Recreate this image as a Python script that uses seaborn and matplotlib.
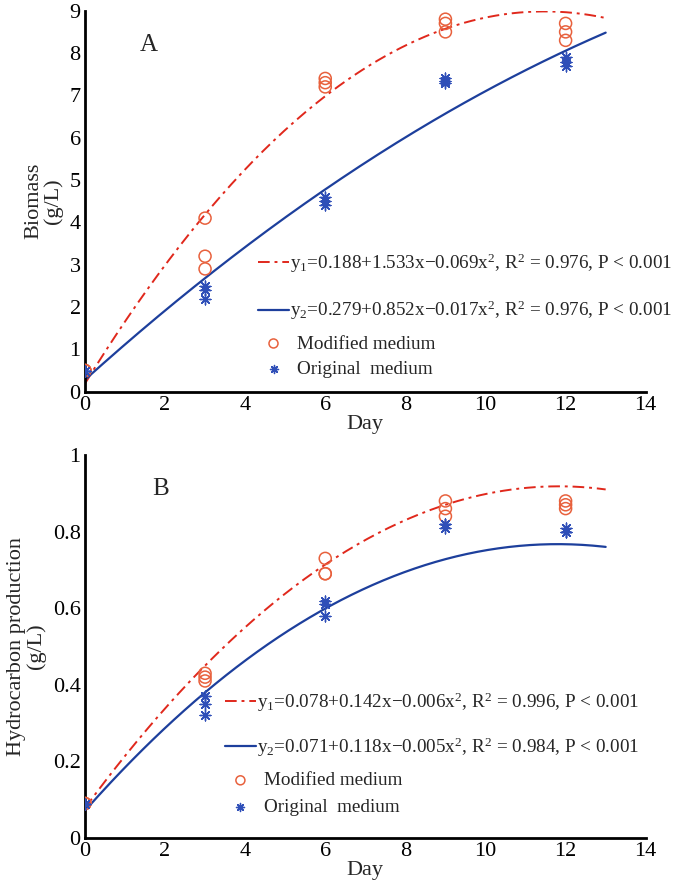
import numpy as np
import pandas as pd
import matplotlib
matplotlib.use('Agg')
import matplotlib.pyplot as plt
import seaborn as sns

## sampling days and replicate values
days = [0, 3, 6, 9, 12]

bio_mod = [[0.5, 0.5, 0.5], [4.1, 3.2, 2.9], [7.4, 7.3, 7.2], [8.8, 8.7, 8.5], [8.7, 8.5, 8.3]]
bio_ori = [[0.5, 0.5, 0.5], [2.5, 2.4, 2.2], [4.6, 4.5, 4.4], [7.4, 7.35, 7.3], [7.9, 7.8, 7.7]]

hc_mod = [[0.09, 0.09, 0.09], [0.43, 0.42, 0.41], [0.73, 0.69, 0.69], [0.88, 0.86, 0.84], [0.88, 0.87, 0.86]]
hc_ori = [[0.09, 0.09, 0.09], [0.37, 0.35, 0.32], [0.62, 0.61, 0.58], [0.82, 0.82, 0.81], [0.81, 0.80, 0.80]]

## quadratic fits (intercept, x, x^2) as drawn
fit_bio_mod = [0.188, 1.533, -0.0668]
fit_bio_ori = [0.279, 0.852, -0.017]
fit_hc_mod = [0.078, 0.142, -0.006]
fit_hc_ori = [0.071, 0.118, -0.005]
fit_end = 13

lab_bio = [r'y$_1$=0.188+1.533x$-$0.069x$^2$, R$^2$ = 0.976, P < 0.001',
		   r'y$_2$=0.279+0.852x$-$0.017x$^2$, R$^2$ = 0.976, P < 0.001']
lab_hc = [r'y$_1$=0.078+0.142x$-$0.006x$^2$, R$^2$ = 0.996, P < 0.001',
		  r'y$_2$=0.071+0.118x$-$0.005x$^2$, R$^2$ = 0.984, P < 0.001']
lab_pts = ['Modified medium', 'Original  medium']

RED_LINE = '#e0281c'
RED_PT = '#e8613d'
BLUE_LINE = '#1d3f9c'
BLUE_PT = '#2f4fb8'
FS = 16
LEG_FS = 13.8


def long_df(vals):
	rows = []
	for d, reps in zip(days, vals):
		for v in reps:
			rows.append((d, v))
	return pd.DataFrame(rows, columns=['Day', 'val'])


def fit_df(c):
	xs = np.linspace(0, fit_end, 200)
	return pd.DataFrame({'Day': xs, 'val': c[0] + c[1]*xs + c[2]*xs**2})


def panel(ax, mod, ori, c_mod, c_ori, labs, ylim, yticks, ylabel, letter, letter_xy, leg1, leg2, sp1, sp2):
	sns.lineplot(data=fit_df(c_mod), x='Day', y='val', ax=ax, color=RED_LINE, lw=1.4,
				 linestyle=(0, (6, 2.5, 1.5, 2.5)), label=labs[0])
	sns.lineplot(data=fit_df(c_ori), x='Day', y='val', ax=ax, color=BLUE_LINE, lw=1.6, label=labs[1])

	sns.scatterplot(data=long_df(mod), x='Day', y='val', ax=ax, marker='o', s=75,
					facecolor='none', edgecolor=RED_PT, linewidth=1.1, label=lab_pts[0], zorder=3)
	sns.scatterplot(data=long_df(ori), x='Day', y='val', ax=ax, marker=(8, 2, 0), s=60,
					color=BLUE_PT, edgecolor=BLUE_PT, linewidth=1.0, label=lab_pts[1], zorder=3)

	ax.set_xlim(0, 14)
	ax.set_ylim(*ylim)
	ax.set_xticks(range(0, 15, 2))
	ax.set_yticks(yticks)
	ax.set_yticklabels(['%g' % t for t in yticks])
	ax.set_xlabel('Day', fontsize=FS, labelpad=0)
	ax.set_ylabel(ylabel, fontsize=FS, labelpad=5, linespacing=1.0)
	ax.text(letter_xy[0], letter_xy[1], letter, fontsize=18, ha='center', va='center')

	for s in ['top', 'right']:
		ax.spines[s].set_visible(False)
	for s in ['left', 'bottom']:
		ax.spines[s].set_linewidth(2)
		ax.spines[s].set_color('black')
	ax.tick_params(direction='in', length=5, width=1.8, labelsize=FS, colors='black', pad=3)
	ax.grid(False)

	h, l = ax.get_legend_handles_labels()
	first = ax.legend(h[:2], l[:2], loc='center left', bbox_to_anchor=leg1, borderaxespad=0,
					  frameon=True, facecolor='white', edgecolor='none', framealpha=1,
					  fontsize=LEG_FS, handlelength=1.65, handletextpad=0.05, labelspacing=sp1, borderpad=0.15)
	ax.add_artist(first)
	ax.legend(h[2:], l[2:], loc='center left', bbox_to_anchor=leg2, borderaxespad=0, markerscale=0.75,
			  frameon=False, fontsize=LEG_FS, handlelength=1.65, handletextpad=0.4, labelspacing=sp2, borderpad=0.15)


sns.set_theme(style='white')
plt.rcParams['font.family'] = ['Liberation Serif', 'DejaVu Serif']
plt.rcParams['mathtext.fontset'] = 'custom'
plt.rcParams['mathtext.rm'] = 'Liberation Serif'
plt.rcParams['mathtext.default'] = 'regular'
plt.rcParams['axes.unicode_minus'] = True

fig = plt.figure(figsize=(6.79, 8.93), dpi=100)
ax_a = fig.add_axes([0.125, 0.5614, 0.826, 0.4266])
ax_b = fig.add_axes([0.125, 0.0616, 0.826, 0.4289])

panel(ax_a, bio_mod, bio_ori, fit_bio_mod, fit_bio_ori, lab_bio, (0, 9), list(range(0, 10)),
	  'Biomass\n(g/L)', 'A', (1.6, 8.2), (0.303, 0.275), (0.303, 0.092), 1.26, 0.43)
panel(ax_b, hc_mod, hc_ori, fit_hc_mod, fit_hc_ori, lab_hc, (0, 1), [0, 0.2, 0.4, 0.6, 0.8, 1],
	  'Hydrocarbon production\n(g/L)', 'B', (1.9, 0.91), (0.244, 0.296), (0.244, 0.115), 1.1, 0.48)

fig.savefig('out.png', dpi=100)
